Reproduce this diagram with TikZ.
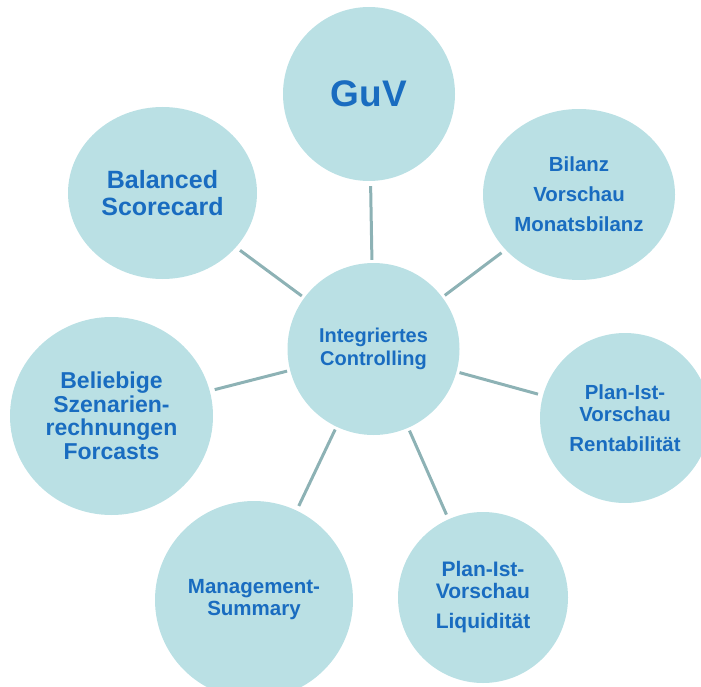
\documentclass[tikz,border=0pt]{standalone}
\usepackage{fontspec}
\setmainfont{Liberation Sans}
\usetikzlibrary{shapes.geometric}
\definecolor{bubblefill}{RGB}{186,224,228}
\definecolor{txtblue}{RGB}{25,108,192}
\definecolor{linkcol}{RGB}{141,178,181}
\tikzset{
  bubble/.style 2 args={ellipse, fill=bubblefill, draw=none, minimum width=#1, minimum height=#2, inner sep=0pt, align=center, text=txtblue},
  link/.style={draw=linkcol, line width=3pt, shorten <=3pt, shorten >=5pt},
}
\begin{document}
\begin{tikzpicture}[x=1pt,y=-1pt]
\useasboundingbox (0,0) rectangle (701,687);
\clip (0,0) rectangle (701,687);
\node[bubble={172pt}{174pt}, font=\bfseries\fontsize{37}{40}\selectfont] (guv) at (369,94) {GuV};
\node[bubble={189pt}{172pt}, font=\bfseries\fontsize{25}{27}\selectfont] (bsc) at (162.5,193) {Balanced\\Scorecard};
\node[bubble={192pt}{171pt}, font=\bfseries\fontsize{20.4}{30}\selectfont] (bil) at (579,194.5) {Bilanz\\Vorschau\\Monatsbilanz};
\node[bubble={172pt}{172pt}, font=\bfseries\fontsize{20}{23}\selectfont] (ctr) at (373.5,349) {Integriertes\\Controlling};
\node[bubble={203pt}{198pt}, font=\bfseries\fontsize{23}{23.5}\selectfont] (szen) at (111.5,416) {Beliebige\\Szenarien-\\rechnungen\\Forcasts};
\node[bubble={170pt}{170pt}, font=\bfseries\fontsize{20.4}{22}\selectfont] (rent) at (625,418) {Plan-Ist-\\Vorschau\\[8pt]Rentabilität};
\node[bubble={198pt}{198pt}, font=\bfseries\fontsize{20.5}{22}\selectfont] (mgmt) at (254,600) {Management-\\Summary};
\node[bubble={170pt}{171pt}, font=\bfseries\fontsize{21}{22}\selectfont] (liq) at (483,597.5) {Plan-Ist-\\Vorschau\\[8pt]Liquidität};
\draw[link] (ctr) -- (guv);
\draw[link] (ctr) -- (bsc);
\draw[link] (ctr) -- (bil);
\draw[link] (ctr) -- (szen);
\draw[link] (ctr) -- (rent);
\draw[link] (ctr) -- (mgmt);
\draw[link] (ctr) -- (liq);
\end{tikzpicture}
\end{document}
